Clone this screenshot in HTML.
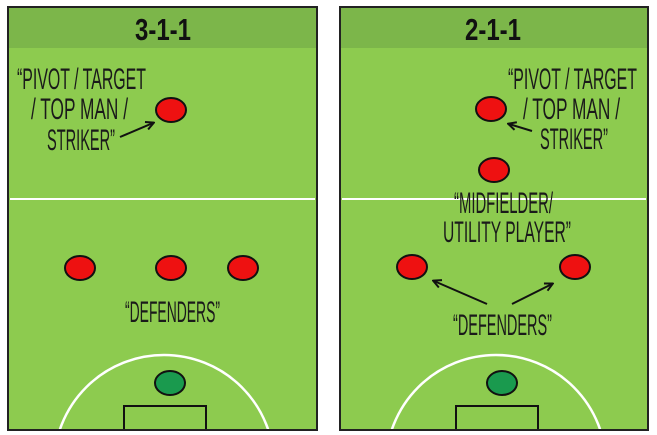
<!DOCTYPE html>
<html><head><meta charset="utf-8"><style>
html,body{margin:0;padding:0;background:#fff;width:657px;height:435px;overflow:hidden}
svg{display:block;position:absolute;left:0;top:0}
.t{font-family:"Liberation Sans Narrow","Liberation Sans",sans-serif;font-size:30px;fill:#1a1a1a}
.h{font-family:"Liberation Sans",sans-serif;font-weight:bold;font-size:31px;fill:#111}
</style></head><body>
<svg width="657" height="435" viewBox="0 0 657 435" xmlns="http://www.w3.org/2000/svg">
<defs>
<marker id="ar" viewBox="0 0 10 10" refX="8" refY="5" markerWidth="5" markerHeight="5" orient="auto"><path d="M1,1 L9,5 L1,9" fill="none" stroke="#111" stroke-width="2"/></marker>
<clipPath id="cl"><rect x="8" y="7" width="309" height="423"/></clipPath>
<clipPath id="cr"><rect x="340" y="7" width="308" height="423"/></clipPath>
</defs>
<rect x="8" y="7" width="309" height="423" fill="#8dcb4f"/>
<rect x="8" y="7" width="309" height="41" fill="#7cb64a"/>
<line x1="10" y1="199" x2="315" y2="199" stroke="#fff" stroke-width="2"/>
<g clip-path="url(#cl)">
<circle cx="164" cy="465" r="110" fill="none" stroke="#fff" stroke-width="2.5"/>
<rect x="124" y="406" width="82" height="30" fill="none" stroke="#111" stroke-width="2"/>
</g>
<rect x="8" y="7" width="309" height="423" fill="none" stroke="#222" stroke-width="2"/>
<text class="h" x="163" y="40" text-anchor="middle" textLength="56" lengthAdjust="spacingAndGlyphs">3-1-1</text>
<text class="t" x="17" y="89" textLength="129" lengthAdjust="spacingAndGlyphs">“PIVOT / TARGET</text>
<text class="t" x="31" y="119" textLength="97" lengthAdjust="spacingAndGlyphs">/ TOP MAN /</text>
<text class="t" x="47" y="150" textLength="68" lengthAdjust="spacingAndGlyphs">STRIKER”</text>
<line x1="120" y1="137" x2="153" y2="123" stroke="#111" stroke-width="2" marker-end="url(#ar)"/>
<text class="t" x="125" y="322" textLength="95" lengthAdjust="spacingAndGlyphs">“DEFENDERS”</text>
<g stroke="#111" stroke-width="2" fill="#ee1111">
<ellipse cx="171" cy="110" rx="15" ry="12"/>
<ellipse cx="80" cy="268" rx="15" ry="12"/>
<ellipse cx="171" cy="268" rx="15" ry="12"/>
<ellipse cx="243" cy="268" rx="15" ry="12"/>
<ellipse cx="170" cy="383" rx="15" ry="12" fill="#1a9a4e"/>
</g>
<rect x="340" y="7" width="308" height="423" fill="#8dcb4f"/>
<rect x="340" y="7" width="308" height="41" fill="#7cb64a"/>
<line x1="342" y1="199" x2="646" y2="199" stroke="#fff" stroke-width="2"/>
<g clip-path="url(#cr)">
<circle cx="496" cy="465" r="110" fill="none" stroke="#fff" stroke-width="2.5"/>
<rect x="456" y="406" width="82" height="30" fill="none" stroke="#111" stroke-width="2"/>
</g>
<rect x="340" y="7" width="308" height="423" fill="none" stroke="#222" stroke-width="2"/>
<text class="h" x="493" y="40" text-anchor="middle" textLength="56" lengthAdjust="spacingAndGlyphs">2-1-1</text>
<text class="t" x="508" y="89" textLength="129" lengthAdjust="spacingAndGlyphs">“PIVOT / TARGET</text>
<text class="t" x="523" y="119" textLength="97" lengthAdjust="spacingAndGlyphs">/ TOP MAN /</text>
<text class="t" x="540" y="149" textLength="68" lengthAdjust="spacingAndGlyphs">STRIKER”</text>
<line x1="532" y1="131" x2="509" y2="124" stroke="#111" stroke-width="2" marker-end="url(#ar)"/>
<text class="t" x="454" y="213" textLength="99" lengthAdjust="spacingAndGlyphs">“MIDFIELDER/</text>
<text class="t" x="443" y="242" textLength="128" lengthAdjust="spacingAndGlyphs">UTILITY PLAYER”</text>
<text class="t" x="453" y="335" textLength="99" lengthAdjust="spacingAndGlyphs">“DEFENDERS”</text>
<line x1="487" y1="304" x2="434" y2="281" stroke="#111" stroke-width="2" marker-end="url(#ar)"/>
<line x1="512" y1="304" x2="552" y2="284" stroke="#111" stroke-width="2" marker-end="url(#ar)"/>
<g stroke="#111" stroke-width="2" fill="#ee1111">
<ellipse cx="491" cy="109" rx="15" ry="12"/>
<ellipse cx="494" cy="170" rx="15" ry="12"/>
<ellipse cx="412" cy="267" rx="15" ry="12"/>
<ellipse cx="575" cy="267" rx="15" ry="12"/>
<ellipse cx="502" cy="383" rx="15" ry="12" fill="#1a9a4e"/>
</g>
</svg>
</body></html>
